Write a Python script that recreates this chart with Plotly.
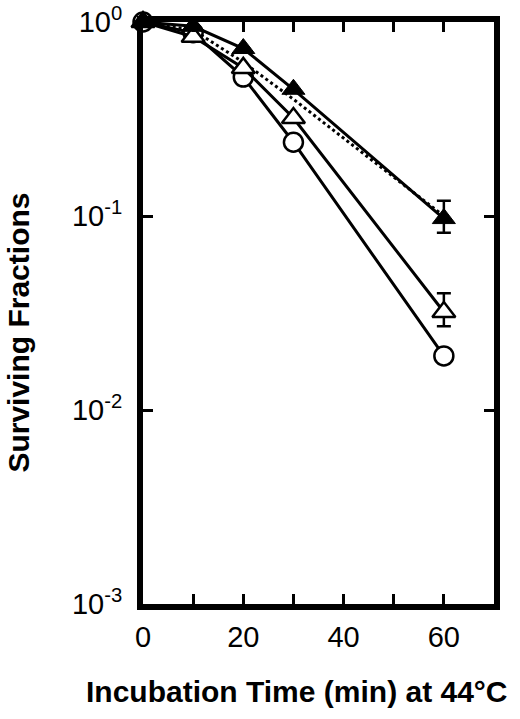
import plotly.graph_objects as go

# incubation times (min) at 44 C
time_min = [0, 10, 20, 30, 60]

# surviving fractions
filled_tri = [1.0, 0.95, 0.73, 0.45, 0.097]
filled_tri_err_plus = [0, 0, 0, 0, 0.023]
filled_tri_err_minus = [0, 0, 0, 0, 0.015]

open_tri = [1.0, 0.84, 0.58, 0.32, 0.032]
open_tri_err_plus = [0, 0, 0, 0, 0.008]
open_tri_err_minus = [0, 0, 0, 0, 0.005]

open_circ = [1.0, 0.88, 0.52, 0.24, 0.019]

dotted_fit = [1.0, 0.91, 0.62, 0.40, 0.10]

x_ticks = [0, 10, 20, 30, 40, 50, 60]
x_ticktext = ["0", "", "20", "", "40", "", "60"]
y_ticks = [0.001, 0.01, 0.1, 1]
y_ticktext = ["10<sup>-3</sup>", "10<sup>-2</sup>", "10<sup>-1</sup>", "10<sup>0</sup>"]

fig = go.Figure()

# dotted curve without markers
fig.add_trace(go.Scatter(
    x=time_min, y=dotted_fit, mode='lines',
    line=dict(color='black', width=3, dash='dot'),
    showlegend=False, cliponaxis=False
))

# open circles
fig.add_trace(go.Scatter(
    x=time_min, y=open_circ, mode='lines+markers',
    line=dict(color='black', width=3),
    marker=dict(symbol='circle', size=19, color='white', line=dict(color='black', width=2.5)),
    showlegend=False, cliponaxis=False
))

# open triangles
fig.add_trace(go.Scatter(
    x=time_min, y=open_tri, mode='lines+markers',
    line=dict(color='black', width=3),
    marker=dict(symbol='triangle-up', size=20, color='white', line=dict(color='black', width=2.5)),
    error_y=dict(type='data', symmetric=False, array=open_tri_err_plus,
                 arrayminus=open_tri_err_minus, color='black', thickness=2.5, width=7),
    showlegend=False, cliponaxis=False
))

# filled triangles
fig.add_trace(go.Scatter(
    x=time_min, y=filled_tri, mode='lines+markers',
    line=dict(color='black', width=3),
    marker=dict(symbol='triangle-up', size=20, color='black', line=dict(color='black', width=1)),
    error_y=dict(type='data', symmetric=False, array=filled_tri_err_plus,
                 arrayminus=filled_tri_err_minus, color='black', thickness=2.5, width=7),
    showlegend=False, cliponaxis=False
))

tick_font = dict(family='Liberation Sans, Arial, sans-serif', size=29, color='black')
title_font = dict(family='Liberation Sans, Arial, sans-serif', size=30, color='black')

fig.update_layout(
    width=520, height=719,
    margin=dict(l=143, r=26, t=22, b=115),
    paper_bgcolor='white', plot_bgcolor='white',
    xaxis=dict(
        range=[0, 70], tickvals=x_ticks, ticktext=x_ticktext,
        ticks='inside', ticklen=10, tickwidth=2.5, tickcolor='black',
        showline=True, linewidth=6, linecolor='black', mirror='ticks',
        showgrid=False, zeroline=False, tickfont=tick_font, automargin=False,
        ticklabelstandoff=2, ticklabeloverflow='allow',
    ),
    yaxis=dict(
        type='log', range=[-3, 0], tickvals=y_ticks, ticktext=y_ticktext,
        ticks='inside', ticklen=10, tickwidth=2.5, tickcolor='black',
        showline=True, linewidth=6, linecolor='black', mirror='ticks',
        showgrid=False, zeroline=False, tickfont=tick_font, automargin=False,
        ticklabelstandoff=9, ticklabeloverflow='allow',
    ),
    annotations=[
        dict(text='<b>Incubation Time (min) at 44°C</b>', xref='paper', yref='paper',
             x=0.439, y=-0.151, xanchor='center', yanchor='middle', showarrow=False,
             font=title_font),
        dict(text='<b>Surviving Fractions</b>', xref='paper', yref='paper',
             x=-0.355, y=0.467, xanchor='center', yanchor='middle', showarrow=False, textangle=-90,
             font=title_font),
    ],
)

# drop the default page margin so the figure fills the window, no modebar
fig.write_html("out.html", config={'displayModeBar': False},
               post_script="document.body.style.margin='0px';")
